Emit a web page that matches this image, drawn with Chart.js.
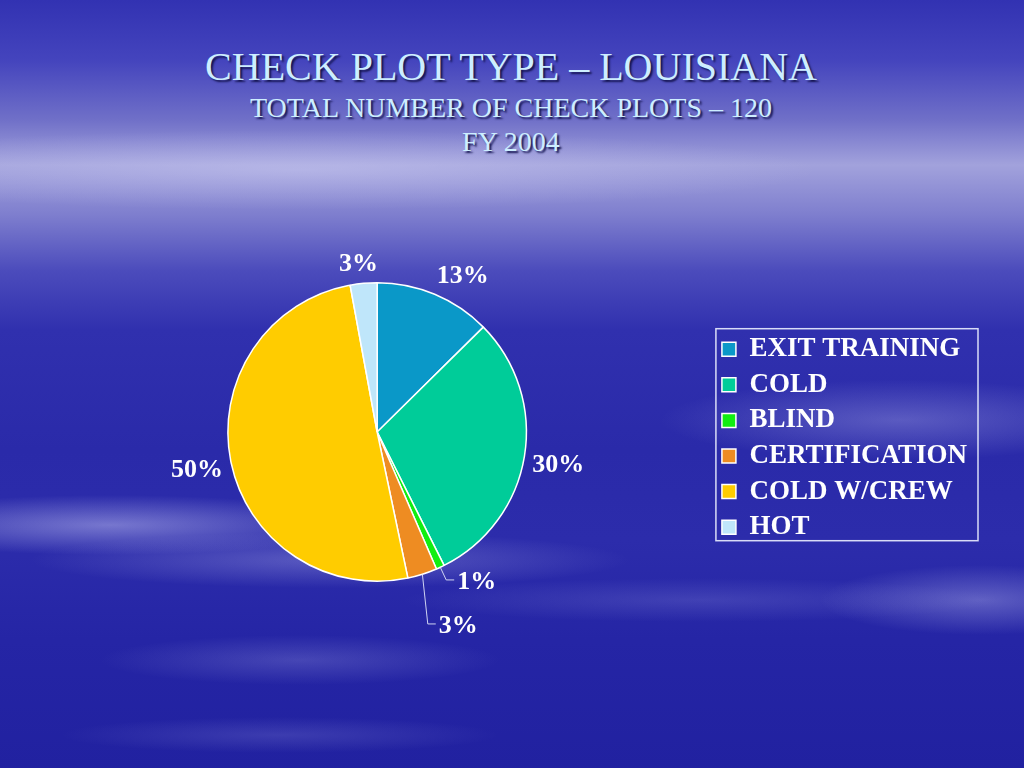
<!DOCTYPE html>
<html>
<head>
<meta charset="utf-8">
<script src="https://cdn.jsdelivr.net/npm/chart.js@4"></script>
<style>
  html, body { margin: 0; padding: 0; }
  body {
    width: 1024px; height: 768px; overflow: hidden; position: relative;
    background:
      radial-gradient(ellipse 260px 30px at 110px 525px, rgba(210,210,250,0.45), rgba(210,210,250,0)),
      radial-gradient(ellipse 300px 28px at 330px 560px, rgba(200,200,245,0.30), rgba(200,200,245,0)),
      radial-gradient(ellipse 200px 25px at 300px 660px, rgba(190,190,240,0.22), rgba(190,190,240,0)),
      radial-gradient(ellipse 240px 40px at 900px 420px, rgba(200,200,245,0.30), rgba(200,200,245,0)),
      radial-gradient(ellipse 160px 35px at 980px 600px, rgba(200,200,245,0.35), rgba(200,200,245,0)),
      radial-gradient(ellipse 300px 22px at 700px 600px, rgba(180,180,240,0.18), rgba(180,180,240,0)),
      radial-gradient(ellipse 220px 18px at 280px 735px, rgba(180,180,240,0.18), rgba(180,180,240,0)),
      radial-gradient(ellipse 520px 40px at 300px 170px, rgba(220,220,250,0.35), rgba(220,220,250,0)),
      linear-gradient(to bottom, #3232b2 0px, #4444bd 60px, #7070c8 120px, #a2a2dc 165px,
        #7e7ece 215px, #4c4cbc 270px, #3030ae 330px, #2a2aa9 450px, #2c2cab 540px,
        #2525a5 640px, #2121a0 768px);
  }
  .ttl {
    position: absolute; left: 0; width: 1022px; text-align: center;
    font-family: "Liberation Serif", "Times New Roman", serif;
    color: #cdeeff; text-shadow: 2px 2px 2px #141450; white-space: nowrap;
  }
  #t1 { top: 47px; font-size: 40px; line-height: 40px; }
  #t2 { top: 94px; font-size: 28px; line-height: 28px; }
  #t3 { top: 128px; font-size: 28px; line-height: 28px; }
  #chart { position: absolute; left: 0; top: 0; }
</style>
</head>
<body>
<div class="ttl" id="t1">CHECK PLOT TYPE – LOUISIANA</div>
<div class="ttl" id="t2">TOTAL NUMBER OF CHECK PLOTS – 120</div>
<div class="ttl" id="t3">FY 2004</div>
<canvas id="chart" width="1024" height="768"></canvas>
<script>
// share of check plots, percent
const categories = ['EXIT TRAINING', 'COLD', 'BLIND', 'CERTIFICATION', 'COLD W/CREW', 'HOT'];
const shares = [12.6, 30.0, 0.9, 3.2, 50.4, 2.9];
const sliceColors = ['#0a98c8', '#00cc99', '#11ee11', '#ee8c22', '#ffcc00', '#bfe6fa'];

// slices whose label sits on a leader line: index -> [extra distance, direction tilt]
const leaderSlices = { 2: [14, 0], 3: [50, 0.2] };

const labelFont = 'bold 26px "Liberation Serif", "Times New Roman", serif';

const pctLabels = {
  id: 'pctLabels',
  afterDatasetsDraw(chart) {
    const ctx = chart.ctx;
    const meta = chart.getDatasetMeta(0);
    const total = shares.reduce((a, b) => a + b, 0);
    ctx.save();
    ctx.font = labelFont;
    ctx.fillStyle = '#ffffff';
    ctx.textBaseline = 'middle';
    meta.data.forEach((arc, i) => {
      const p = arc.getProps(['x', 'y', 'startAngle', 'endAngle', 'outerRadius'], true);
      const a = (p.startAngle + p.endAngle) / 2;
      const ux = Math.cos(a), uy = Math.sin(a);
      const r = p.outerRadius;
      const txt = Math.round(shares[i] / total * 100) + '%';
      const w = ctx.measureText(txt).width;
      const h = 26;
      if (leaderSlices[i] !== undefined) {
        const [d, tilt] = leaderSlices[i];
        const sx = p.x + ux * r, sy = p.y + uy * r;
        const la = a + tilt;
        const bx = sx + Math.cos(la) * d, by = sy + Math.sin(la) * d;
        ctx.strokeStyle = 'rgba(225,230,250,0.9)';
        ctx.lineWidth = 1;
        ctx.beginPath();
        ctx.moveTo(sx, sy);
        ctx.lineTo(bx, by);
        ctx.lineTo(bx + 8, by);
        ctx.stroke();
        ctx.textAlign = 'left';
        ctx.fillText(txt, bx + 11, by + 2);
      } else {
        const cl = v => Math.max(-1, Math.min(1, v * 2.5));
        const px = p.x + ux * (r + 8), py = p.y + uy * (r + 8);
        ctx.textAlign = 'center';
        ctx.fillText(txt, px + cl(ux) * w / 2, py + cl(uy) * h / 2 + 2);
      }
    });
    ctx.restore();
  }
};

const legendBorder = {
  id: 'legendBorder',
  afterDraw(chart) {
    const boxes = chart.legend.legendHitBoxes;
    if (!boxes || !boxes.length) return;
    const l = Math.min(...boxes.map(b => b.left));
    const t = Math.min(...boxes.map(b => b.top));
    const rr = Math.max(...boxes.map(b => b.left + b.width));
    const bb = Math.max(...boxes.map(b => b.top + b.height));
    const ctx = chart.ctx;
    ctx.save();
    ctx.strokeStyle = 'rgba(235,240,255,0.9)';
    ctx.lineWidth = 1.5;
    ctx.strokeRect(l - 6, t - 7, rr - l + 17, bb - t + 7);
    ctx.restore();
  }
};

const ctx = document.getElementById('chart').getContext('2d');
new Chart(ctx, {
  type: 'pie',
  data: {
    labels: categories,
    datasets: [{
      data: shares,
      backgroundColor: sliceColors,
      borderColor: '#ffffff',
      borderWidth: 1.5
    }]
  },
  options: {
    responsive: false,
    animation: false,
    layout: { padding: { top: 282, bottom: 186, left: 41, right: 47 } },
    plugins: {
      legend: {
        position: 'right',
        align: 'center',
        title: { display: true, text: ' ', font: { size: 2 }, padding: 5 },
        labels: {
          color: '#ffffff',
          font: { family: '"Liberation Serif", "Times New Roman", serif', size: 27, weight: 'bold' },
          boxWidth: 14,
          boxHeight: 14,
          padding: 8.6
        }
      },
      tooltip: { enabled: false },
      title: { display: false }
    }
  },
  plugins: [pctLabels, legendBorder]
});
</script>
</body>
</html>
